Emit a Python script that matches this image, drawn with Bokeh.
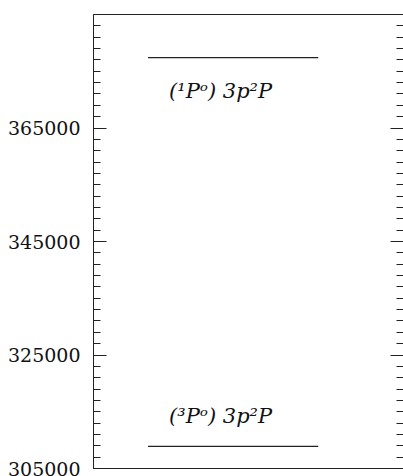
from bokeh.plotting import figure
from bokeh.models import LinearAxis, FixedTicker, Range1d, ColumnDataSource, BasicTickFormatter, CustomJSTickFormatter
from bokeh.core.properties import value
from bokeh.embed import file_html
from bokeh.resources import INLINE

# ---- data ----
level_labels = ["(³Pᵒ) 3p²P", "(¹Pᵒ) 3p²P"]
level_energies = [308900, 377400]
major_ticks = [305000, 325000, 345000, 365000]
minor_ticks = list(range(305000, 385001, 2000))
y_min, y_max = 305000, 385000

# ---- layout constants ----
LINE_X0, LINE_X1 = 0.176, 0.725
LABEL_X = 0.41
AXIS_COLOR = "#222222"
SERIF = "DejaVu Serif"

p = figure(width=403, height=476, x_range=Range1d(0, 1), y_range=Range1d(y_min, y_max),
           output_backend="svg", toolbar_location=None,
           min_border_left=93, min_border_right=0, min_border_top=14, min_border_bottom=8,
           outline_line_color=None, background_fill_color="white", border_fill_color="white")
p.grid.visible = False

blank = CustomJSTickFormatter(code="return ''")

def style_y(ax, labels=True):
    ax.ticker = FixedTicker(ticks=major_ticks, minor_ticks=minor_ticks)
    ax.major_tick_in = 13
    ax.major_tick_out = 0
    ax.minor_tick_in = 7
    ax.minor_tick_out = 0
    ax.axis_line_color = AXIS_COLOR
    ax.major_tick_line_color = AXIS_COLOR
    ax.minor_tick_line_color = AXIS_COLOR
    if labels:
        ax.formatter = BasicTickFormatter(use_scientific=False)
        ax.major_label_standoff = 13
        ax.major_label_text_font = SERIF
        ax.major_label_text_font_size = "19px"
        ax.major_label_text_color = "#111111"
    else:
        ax.formatter = blank
        ax.major_label_standoff = 0
        ax.axis_label_standoff = 0

def style_x(ax):
    ax.ticker = FixedTicker(ticks=[])
    ax.formatter = blank
    ax.major_tick_in = 0
    ax.major_tick_out = 0
    ax.minor_tick_in = 0
    ax.minor_tick_out = 0
    ax.major_label_standoff = 0
    ax.axis_label_standoff = 0
    ax.axis_line_color = AXIS_COLOR

style_y(p.yaxis[0], labels=True)
style_x(p.xaxis[0])

right = LinearAxis()
style_y(right, labels=False)
right.axis_line_color = None
p.add_layout(right, "right")

top = LinearAxis()
style_x(top)
p.add_layout(top, "above")

# level lines
src = ColumnDataSource(dict(
    x0=[LINE_X0] * len(level_energies),
    x1=[LINE_X1] * len(level_energies),
    y=level_energies,
    lx=[LABEL_X] * len(level_energies),
    text=level_labels,
    yoff=[(-30 if e == min(level_energies) else 33) for e in level_energies],
))
p.segment(x0="x0", y0="y", x1="x1", y1="y", source=src, line_color="#222222", line_width=1.2)
p.text(x="lx", y="y", text="text", y_offset="yoff", source=src,
       text_font=value(SERIF), text_font_style="italic", text_font_size="21px",
       text_align="center", text_baseline="middle", text_color="#111111")

open("out.html", "w").write(file_html(p, INLINE))
